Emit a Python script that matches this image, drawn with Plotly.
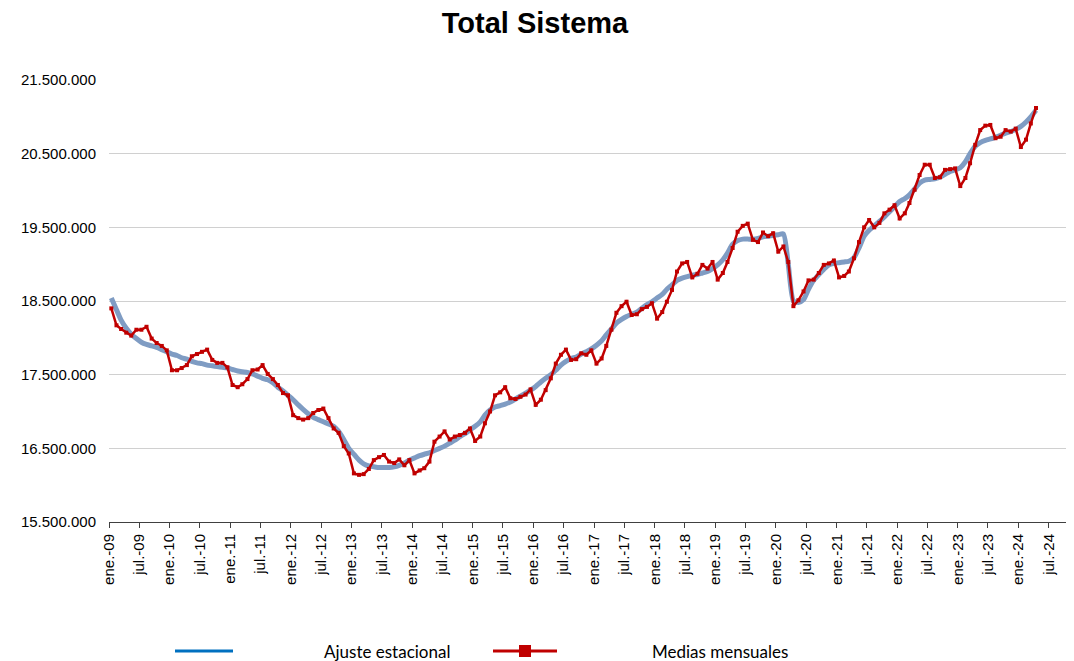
import pandas as pd
import plotly.graph_objects as go

# Monthly dates Jan 2009 .. Apr 2024 (points placed mid-month)
months = pd.date_range("2009-01-01", periods=184, freq="MS") + pd.Timedelta(days=14)

# Ajuste estacional (millions)
ajuste_estacional = [
    18.54, 18.38, 18.24, 18.13, 18.05, 17.99, 17.94, 17.91, 17.89, 17.87, 17.84, 17.81,
    17.78, 17.76, 17.73, 17.71, 17.68, 17.66, 17.65, 17.63, 17.62, 17.61, 17.60, 17.59,
    17.57, 17.55, 17.54, 17.53, 17.51, 17.48, 17.45, 17.43, 17.39, 17.33, 17.28, 17.22,
    17.16, 17.09, 17.03, 16.97, 16.92, 16.89, 16.86, 16.83, 16.80, 16.73, 16.62, 16.50,
    16.42, 16.34, 16.29, 16.26, 16.25, 16.24, 16.24, 16.24, 16.25, 16.27, 16.30, 16.34,
    16.37, 16.40, 16.42, 16.44, 16.47, 16.50, 16.53, 16.57, 16.61, 16.66, 16.70, 16.75,
    16.80, 16.86, 16.95, 17.02, 17.06, 17.08, 17.10, 17.13, 17.17, 17.21, 17.25, 17.29,
    17.34, 17.40, 17.45, 17.50, 17.56, 17.63, 17.68, 17.72, 17.74, 17.78, 17.81, 17.85,
    17.90, 17.96, 18.04, 18.12, 18.20, 18.25, 18.29, 18.32, 18.35, 18.40, 18.45, 18.49,
    18.54, 18.59, 18.66, 18.72, 18.78, 18.81, 18.83, 18.85, 18.86, 18.88, 18.90, 18.94,
    18.99, 19.06, 19.15, 19.27, 19.32, 19.34, 19.34, 19.34, 19.35, 19.37, 19.38, 19.39,
    19.40, 19.41, 19.00, 18.50, 18.48, 18.52, 18.66, 18.78, 18.86, 18.93, 18.99, 19.01,
    19.02, 19.03, 19.04, 19.09, 19.22, 19.38, 19.46, 19.52, 19.58, 19.64, 19.71, 19.78,
    19.85, 19.89, 19.94, 20.02, 20.10, 20.14, 20.15, 20.16, 20.18, 20.22, 20.26, 20.28,
    20.31, 20.39, 20.50, 20.60, 20.65, 20.68, 20.70, 20.72, 20.75, 20.78, 20.80, 20.83,
    20.87, 20.93, 21.00, 21.09,
]

# Medias mensuales (millions)
medias_mensuales = [
    18.40, 18.17, 18.12, 18.07, 18.03, 18.11, 18.11, 18.15, 17.99, 17.93, 17.89, 17.83,
    17.56, 17.56, 17.59, 17.63, 17.75, 17.78, 17.81, 17.84, 17.70, 17.66, 17.66, 17.60,
    17.36, 17.33, 17.37, 17.44, 17.56, 17.57, 17.63, 17.51, 17.44, 17.36, 17.25, 17.22,
    16.95, 16.91, 16.89, 16.91, 16.98, 17.02, 17.04, 16.91, 16.77, 16.71, 16.53, 16.43,
    16.16, 16.14, 16.15, 16.22, 16.34, 16.38, 16.41, 16.32, 16.30, 16.35, 16.27, 16.34,
    16.16, 16.20, 16.23, 16.32, 16.59, 16.66, 16.73, 16.62, 16.66, 16.68, 16.71, 16.77,
    16.60, 16.66, 16.84, 17.00, 17.22, 17.26, 17.33, 17.18, 17.17, 17.20, 17.23, 17.30,
    17.09, 17.16, 17.29, 17.45, 17.65, 17.77, 17.84, 17.70, 17.71, 17.79, 17.77, 17.83,
    17.65, 17.72, 17.89, 18.11, 18.34, 18.43, 18.49, 18.31, 18.32, 18.39, 18.42, 18.47,
    18.26, 18.35, 18.49, 18.65, 18.90, 19.01, 19.03, 18.82, 18.87, 18.99, 18.94, 19.03,
    18.79, 18.88, 19.03, 19.22, 19.44, 19.52, 19.55, 19.33, 19.30, 19.43, 19.38, 19.42,
    19.17, 19.24, 19.03, 18.43, 18.51, 18.63, 18.78, 18.79, 18.88, 18.99, 19.01, 19.05,
    18.82, 18.84, 18.90, 19.08, 19.30, 19.50, 19.60, 19.50, 19.56, 19.69, 19.74, 19.80,
    19.62, 19.69, 19.83, 20.01, 20.21, 20.35, 20.35, 20.17, 20.18, 20.28, 20.29, 20.30,
    20.06, 20.17, 20.37, 20.62, 20.82, 20.88, 20.89, 20.71, 20.73, 20.82, 20.80, 20.84,
    20.59, 20.69, 20.91, 21.12,
]

y_tickvals = [15500000, 16500000, 17500000, 18500000, 19500000, 20500000, 21500000]
y_ticktext = ["15.500.000", "16.500.000", "17.500.000", "18.500.000",
              "19.500.000", "20.500.000", "21.500.000"]

x_tickvals = [
    "2009-01-01", "2009-07-01", "2010-01-01", "2010-07-01", "2011-01-01", "2011-07-01",
    "2012-01-01", "2012-07-01", "2013-01-01", "2013-07-01", "2014-01-01", "2014-07-01",
    "2015-01-01", "2015-07-01", "2016-01-01", "2016-07-01", "2017-01-01", "2017-07-01",
    "2018-01-01", "2018-07-01", "2019-01-01", "2019-07-01", "2020-01-01", "2020-07-01",
    "2021-01-01", "2021-07-01", "2022-01-01", "2022-07-01", "2023-01-01", "2023-07-01",
    "2024-01-01", "2024-07-01",
]
x_ticktext = [
    "ene.-09", "jul.-09", "ene.-10", "jul.-10", "ene.-11", "jul.-11",
    "ene.-12", "jul.-12", "ene.-13", "jul.-13", "ene.-14", "jul.-14",
    "ene.-15", "jul.-15", "ene.-16", "jul.-16", "ene.-17", "jul.-17",
    "ene.-18", "jul.-18", "ene.-19", "jul.-19", "ene.-20", "jul.-20",
    "ene.-21", "jul.-21", "ene.-22", "jul.-22", "ene.-23", "jul.-23",
    "ene.-24", "jul.-24",
]

series_names = ["Ajuste estacional", "Medias mensuales"]

BLUE_LINE = "#7F9CC3"
LEGEND_BLUE = "#0070C0"
RED = "#C00000"
AXIS_FONT = "Liberation Sans, Arial, sans-serif"
LEGEND_FONT = "Lato, Carlito, Calibri, sans-serif"

# The page body adds an 8px margin, so the figure is sized to fit the window.
W, H = 1066, 653
ML, MR, MT, MB = 101, 0, 72, 139
plot_w = W - ML - MR
plot_h = H - MT - MB

fig = go.Figure()
fig.add_trace(go.Scatter(
    x=months, y=[v * 1e6 for v in ajuste_estacional], mode="lines",
    name=series_names[0], line=dict(color=BLUE_LINE, width=5, shape="spline", smoothing=0.6),
))
fig.add_trace(go.Scatter(
    x=months, y=[v * 1e6 for v in medias_mensuales], mode="lines+markers",
    name=series_names[1], line=dict(color=RED, width=2.5),
    marker=dict(symbol="square", size=4, color=RED),
))

# Manual legend (reference keys: plain blue line, red line with square)
def px_x(page_x):
    return (page_x - 8 - ML) / plot_w

ly = -(643 - (H - MB)) / plot_h
shapes = [
    dict(type="line", xref="paper", yref="paper", x0=px_x(175), x1=px_x(233), y0=ly, y1=ly,
         line=dict(color=LEGEND_BLUE, width=3)),
    dict(type="line", xref="paper", yref="paper", x0=px_x(493), x1=px_x(557), y0=ly, y1=ly,
         line=dict(color=RED, width=3)),
    dict(type="rect", xref="paper", yref="paper", xsizemode="pixel", ysizemode="pixel",
         xanchor=px_x(525), yanchor=ly, x0=-6, x1=6, y0=-6, y1=6,
         fillcolor=RED, line=dict(color=RED, width=0)),
]
annotations = [
    dict(text=series_names[0], xref="paper", yref="paper", x=px_x(322), y=ly,
         xanchor="left", yanchor="middle", showarrow=False,
         font=dict(family=LEGEND_FONT, size=17, color="#000000")),
    dict(text=series_names[1], xref="paper", yref="paper", x=px_x(650), y=ly,
         xanchor="left", yanchor="middle", showarrow=False,
         font=dict(family=LEGEND_FONT, size=17, color="#000000")),
]

fig.update_layout(
    width=W, height=H,
    margin=dict(l=ML, r=MR, t=MT, b=MB),
    paper_bgcolor="white", plot_bgcolor="white",
    showlegend=False,
    title=dict(text="<b>Total Sistema</b>", x=(535 - 8) / W, xref="container", xanchor="center",
               y=1 - 15 / H, yref="container", yanchor="middle",
               font=dict(family=AXIS_FONT, size=29, color="#000000")),
    shapes=shapes, annotations=annotations,
    xaxis=dict(
        type="date", range=["2009-01-01", "2024-11-30"],
        tickvals=x_tickvals, ticktext=x_ticktext, tickangle=-90,
        ticks="outside", ticklen=5, tickcolor="#404040", tickwidth=1,
        showline=True, linecolor="#404040", linewidth=1,
        showgrid=False, zeroline=False,
        tickfont=dict(family=AXIS_FONT, size=15, color="#000000"),
    ),
    yaxis=dict(
        range=[15500000, 21500000],
        tickvals=y_tickvals, ticktext=y_ticktext,
        showgrid=True, gridcolor="#D0D0D0", gridwidth=1,
        showline=False, zeroline=False, ticks="",
        ticklabelstandoff=12,
        tickfont=dict(family=AXIS_FONT, size=15, color="#000000"),
    ),
)

fig.write_html("out.html")
